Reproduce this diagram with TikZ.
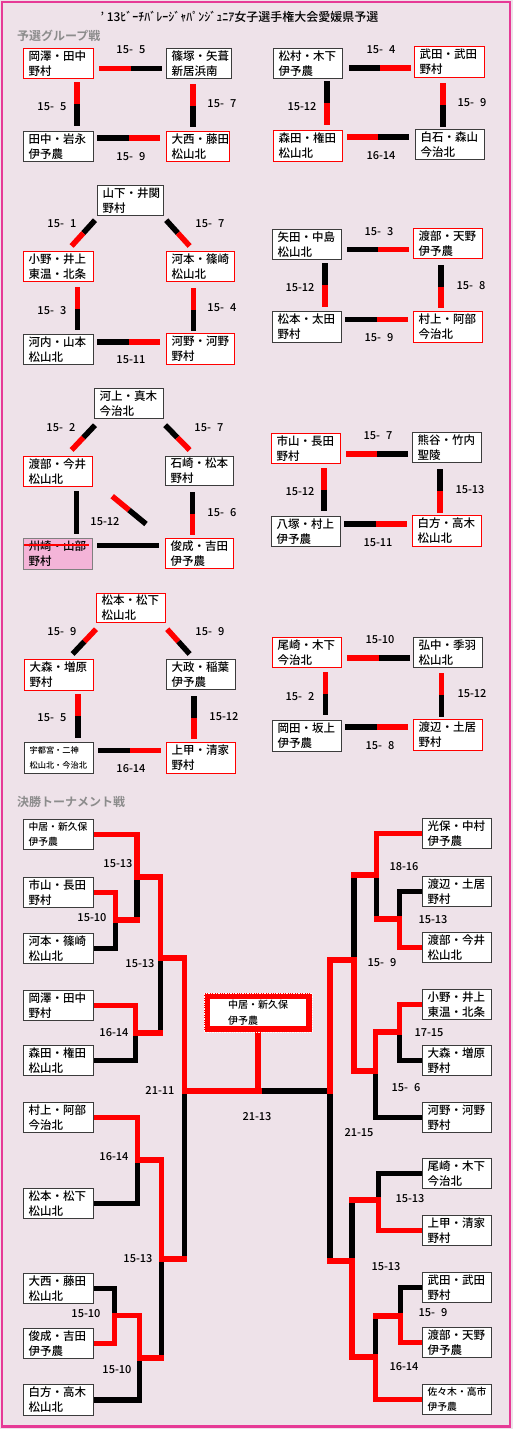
\documentclass[tikz,border=0pt]{standalone}
\usepackage{fontspec}
\setmainfont{Noto Sans CJK JP}[UprightFont=* Medium, BoldFont=* Bold]
\usetikzlibrary{calc,backgrounds}
\definecolor{bg}{RGB}{238,226,233}
\definecolor{framec}{RGB}{230,58,150}
\definecolor{hdr}{RGB}{140,140,140}
\definecolor{bxgray}{RGB}{60,60,60}
\definecolor{strikepink}{RGB}{244,180,216}
\definecolor{myred}{RGB}{255,0,0}
\tikzset{
 bx/.style={draw=bxgray, fill=white, line width=1.2pt, inner xsep=5pt, inner ysep=0pt, align=left, font=\fontsize{11.5}{15}\selectfont},
 bxr/.style={bx, draw=myred},
 bxs/.style={bx, fill=strikepink, draw=gray},
 bxsm/.style={bx, font=\fontsize{9.8}{15}\selectfont},
 bar/.style={line width=5.5pt},
 tl/.style={line width=5.5pt, line join=miter, line cap=rect},
 lab/.style={font=\fontsize{11}{12}\selectfont, inner sep=0pt},
 hdrs/.style={font=\bfseries\fontsize{12}{14}\selectfont, text=hdr, anchor=west, inner sep=0pt},
 cboxs/.style={draw=myred, line width=6pt, fill=white, minimum width=102pt, minimum height=33pt, text width=60pt, align=left, inner sep=0pt, font=\fontsize{10}{16}\selectfont},
}
\newcommand\mybox[7]{%
 \pgfmathsetmacro\bw{#4-#2}\pgfmathsetmacro\bh{#5-#3}\pgfmathsetmacro\tw{#4-#2-10}%
 \node[#6, anchor=north west, minimum width=\bw pt, minimum height=\bh pt, text width=\tw pt] (#1) at (#2,#3) {#7};}
\newcommand\hcon[7]{%
 \coordinate (hs) at ($(#1.east |- 0,#3)+(#4,0)$);
 \coordinate (he) at ($(#2.west |- 0,#3)+(-#5,0)$);
 \coordinate (hm) at ($(hs)!.5!(he)$);
 \draw[bar,#6] (hs) -- (hm);
 \draw[bar,#7] (hm) -- (he);}
\newcommand\vcon[7]{%
 \coordinate (vs) at ($(#1.south -| #3,0)+(0,#4)$);
 \coordinate (ve) at ($(#2.north -| #3,0)+(0,-#5)$);
 \coordinate (vm) at ($(vs)!.5!(ve)$);
 \draw[bar,#6] (vs) -- (vm);
 \draw[bar,#7] (vm) -- (ve);}
\newcommand\dcon[4]{%
 \coordinate (dm) at ($(#1)!.5!(#2)$);
 \draw[bar,#3] (#1) -- (dm);
 \draw[bar,#4] (dm) -- (#2);}
\newcommand\scl[4]{\node[lab] (#1) at (#2,#3) {#4};}
\newcommand\dg{\hphantom{0}}
\begin{document}
\begin{tikzpicture}[x=1pt,y=-1pt]
\useasboundingbox (0,0) rectangle (513,1429);
% title and headers
\node[font=\fontsize{12}{14}\selectfont, inner sep=0pt] (title) at (239.5,17) {' 13ﾋﾞｰﾁﾊﾞﾚｰｼﾞｬﾊﾟﾝｼﾞｭﾆｱ女子選手権大会愛媛県予選};
\node[hdrs] (h1) at (17,36) {予選グループ戦};
\node[hdrs] (h2) at (17,802) {決勝トーナメント戦};
% group 1
\mybox{G1a}{23}{48}{93}{78}{bxr}{岡澤・田中\\野村}
\mybox{G1b}{166}{48}{231}{78}{bx}{篠塚・矢葺\\新居浜南}
\mybox{G1c}{23}{131}{93}{161}{bx}{田中・岩永\\伊予農}
\mybox{G1d}{166}{131}{229}{161}{bxr}{大西・藤田\\松山北}
\hcon{G1a}{G1b}{68.5}{5}{4}{myred}{black}
\hcon{G1c}{G1d}{138}{3}{6}{black}{myred}
\vcon{G1a}{G1c}{77}{3}{5}{myred}{black}
\vcon{G1b}{G1d}{193}{5}{4}{myred}{black}
\scl{s11}{131}{50}{15-\dg 5}
\scl{s12}{52}{107}{15-\dg 5}
\scl{s13}{222}{104}{15-\dg 7}
\scl{s14}{131}{157}{15-\dg 9}
% group 2
\mybox{G2a}{273}{48}{342}{78}{bx}{松村・木下\\伊予農}
\mybox{G2b}{414}{46}{484}{77}{bxr}{武田・武田\\野村}
\mybox{G2c}{273}{130}{342}{161}{bxr}{森田・権田\\松山北}
\mybox{G2d}{415}{129}{484}{159}{bx}{白石・森山\\今治北}
\hcon{G2a}{G2b}{68}{6}{3}{black}{myred}
\hcon{G2c}{G2d}{137}{4}{6}{myred}{black}
\vcon{G2a}{G2c}{327}{2}{5}{black}{myred}
\vcon{G2b}{G2d}{443}{5}{2}{myred}{black}
\scl{s21}{381}{50}{15-\dg 4}
\scl{s22}{302}{107}{15-12}
\scl{s23}{472}{103}{15-\dg 9}
\scl{s24}{381}{156}{16-14}
% group 3
\mybox{G3a}{97}{185}{163}{215}{bx}{山下・井関\\野村}
\mybox{G3b}{23}{251}{93}{281}{bxr}{小野・井上\\東温・北条}
\mybox{G3c}{166}{251}{234}{281}{bxr}{河本・篠崎\\松山北}
\mybox{G3d}{23}{334}{93}{364}{bx}{河内・山本\\松山北}
\mybox{G3e}{166}{333}{234}{364}{bxr}{河野・河野\\野村}
\coordinate (d1) at ($(G3a.south west)+(-2,4)$);
\coordinate (d2) at ($(G3b.north)+(13,-5)$);
\dcon{d1}{d2}{black}{myred}
\coordinate (d3) at ($(G3a.south east)+(2,4)$);
\coordinate (d4) at ($(G3c.north)+(-11,-5)$);
\dcon{d3}{d4}{black}{myred}
\vcon{G3b}{G3d}{77.5}{5}{4}{myred}{black}
\vcon{G3c}{G3e}{193.5}{6}{2}{myred}{black}
\hcon{G3d}{G3e}{342}{3}{6}{black}{myred}
\scl{s31}{62}{224}{15-\dg 1}
\scl{s32}{210}{224}{15-\dg 7}
\scl{s33}{52}{311}{15-\dg 3}
\scl{s34}{222}{308}{15-\dg 4}
\scl{s35}{131}{360}{15-11}
% group 4
\mybox{G4a}{272}{229}{341}{259}{bx}{矢田・中島\\松山北}
\mybox{G4b}{413}{228}{482}{258}{bxr}{渡部・天野\\伊予農}
\mybox{G4c}{272}{311}{341}{342}{bx}{松本・太田\\野村}
\mybox{G4d}{413}{311}{482}{342}{bxr}{村上・阿部\\今治北}
\hcon{G4a}{G4b}{249.5}{5}{4}{black}{myred}
\hcon{G4c}{G4d}{319.5}{3}{5}{black}{myred}
\vcon{G4a}{G4c}{325}{3}{4}{black}{myred}
\vcon{G4b}{G4d}{441}{6}{3}{black}{myred}
\scl{s41}{379}{232}{15-\dg 3}
\scl{s42}{300}{288}{15-12}
\scl{s43}{471}{286}{15-\dg 8}
\scl{s44}{379}{338}{15-\dg 9}
% group 5
\mybox{G5a}{94}{388}{163}{418}{bx}{河上・真木\\今治北}
\mybox{G5b}{23}{456}{92}{486}{bxr}{渡部・今井\\松山北}
\mybox{G5c}{165}{456}{233}{485}{bx}{石崎・松本\\野村}
\mybox{G5d}{23}{538}{92}{569}{bxs}{州崎・山部\\野村}
\mybox{G5e}{165}{538}{233}{568}{bxr}{俊成・吉田\\伊予農}
\draw[myred, line width=2pt] ($(G5d.north west)+(1,7)$) -- ($(G5d.north east)+(-4,7)$);
\coordinate (d5) at ($(G5a.south west)+(1,6)$);
\coordinate (d6) at ($(G5b.north)+(13.5,-6)$);
\dcon{d5}{d6}{black}{myred}
\coordinate (d7) at ($(G5a.south east)+(1,6)$);
\coordinate (d8) at ($(G5c.north)+(-10,-6)$);
\dcon{d7}{d8}{black}{myred}
\coordinate (d9) at ($(G5b.south east)+(19,9)$);
\coordinate (d10) at ($(G5e.north west)+(-19,-14)$);
\dcon{d9}{d10}{myred}{black}
\vcon{G5b}{G5d}{76.5}{4}{4}{black}{black}
\vcon{G5c}{G5e}{192.5}{6}{3}{black}{myred}
\hcon{G5d}{G5e}{545.5}{4}{6}{black}{black}
\scl{s51}{61}{428}{15-\dg 2}
\scl{s52}{209}{428}{15-\dg 7}
\scl{s53}{105}{522}{15-12}
\scl{s54}{222}{513}{15-\dg 6}
% group 6
\mybox{G6a}{271}{433}{340}{463}{bxr}{市山・長田\\野村}
\mybox{G6b}{412}{432}{481}{462}{bx}{熊谷・竹内\\聖陵}
\mybox{G6c}{271}{516}{340}{546}{bx}{八塚・村上\\伊予農}
\mybox{G6d}{412}{515}{481}{546}{bxr}{白方・高木\\松山北}
\hcon{G6a}{G6b}{454}{5}{4}{myred}{black}
\hcon{G6c}{G6d}{524}{3}{5}{black}{myred}
\vcon{G6a}{G6c}{324}{4}{5}{myred}{black}
\vcon{G6b}{G6d}{440}{6}{2}{black}{myred}
\scl{s61}{378}{436}{15-\dg 7}
\scl{s62}{300}{492}{15-12}
\scl{s63}{470}{490}{15-13}
\scl{s64}{378}{543}{15-11}
% group 7
\mybox{G7a}{96}{593}{165}{622}{bxr}{松本・松下\\松山北}
\mybox{G7b}{24}{659}{93}{690}{bxr}{大森・増原\\野村}
\mybox{G7c}{166}{659}{235}{689}{bx}{大政・稲葉\\伊予農}
\mybox{G7d}{24}{742}{93}{773}{bx,font=\fontsize{8.2}{15}\selectfont}{宇都宮・二神\\松山北・今治北}
\mybox{G7e}{166}{742}{235}{773}{bxr}{上甲・清家\\野村}
\coordinate (d11) at ($(G7a.south west)+(0,6)$);
\coordinate (d12) at ($(G7b.north)+(13.5,-5)$);
\dcon{d11}{d12}{myred}{black}
\coordinate (d13) at ($(G7a.south east)+(1,6)$);
\coordinate (d14) at ($(G7c.north)+(-11.5,-5)$);
\dcon{d13}{d14}{myred}{black}
\vcon{G7b}{G7d}{78}{3}{4}{myred}{black}
\vcon{G7c}{G7e}{194}{6}{3}{black}{myred}
\hcon{G7d}{G7e}{750.5}{4}{5}{black}{myred}
\scl{s71}{62}{632}{15-\dg 9}
\scl{s72}{210}{632}{15-\dg 9}
\scl{s73}{52}{718}{15-\dg 5}
\scl{s74}{224}{717}{15-12}
\scl{s75}{131}{769}{16-14}
% group 8
\mybox{G8a}{272}{637}{341}{667}{bxr}{尾崎・木下\\今治北}
\mybox{G8b}{413}{637}{482}{667}{bx}{弘中・季羽\\松山北}
\mybox{G8c}{272}{720}{341}{751}{bx}{岡田・坂上\\伊予農}
\mybox{G8d}{413}{719}{482}{750}{bxr}{渡辺・土居\\野村}
\hcon{G8a}{G8b}{658}{5}{3}{myred}{black}
\hcon{G8c}{G8d}{727}{3}{5}{black}{myred}
\vcon{G8a}{G8c}{325.5}{4}{5}{myred}{black}
\vcon{G8b}{G8d}{441.5}{5}{2}{myred}{black}
\scl{s81}{380}{640}{15-10}
\scl{s82}{300}{697}{15-\dg 2}
\scl{s83}{472}{694}{15-12}
\scl{s84}{380}{746}{15-\dg 8}
% tournament boxes
\mybox{TL1}{23}{819}{93}{849}{bxsm}{中居・新久保\\伊予農}
\mybox{TL2}{23}{877}{93}{907}{bx}{市山・長田\\野村}
\mybox{TL3}{23}{933}{93}{963}{bx}{河本・篠崎\\松山北}
\mybox{TL4}{23}{990}{93}{1020}{bx}{岡澤・田中\\野村}
\mybox{TL5}{23}{1045}{93}{1075}{bx}{森田・権田\\松山北}
\mybox{TL6}{23}{1102}{93}{1132}{bx}{村上・阿部\\今治北}
\mybox{TL7}{23}{1188}{93}{1218}{bx}{松本・松下\\松山北}
\mybox{TL8}{23}{1273}{93}{1303}{bx}{大西・藤田\\松山北}
\mybox{TL9}{23}{1328}{93}{1358}{bx}{俊成・吉田\\伊予農}
\mybox{TL10}{23}{1384}{93}{1415}{bx}{白方・高木\\松山北}
\mybox{TR1}{422}{818}{491}{848}{bx}{光保・中村\\伊予農}
\mybox{TR2}{422}{876}{491}{906}{bx}{渡辺・土居\\野村}
\mybox{TR3}{422}{932}{491}{962}{bx}{渡部・今井\\松山北}
\mybox{TR4}{422}{989}{491}{1019}{bx}{小野・井上\\東温・北条}
\mybox{TR5}{422}{1045}{491}{1075}{bx}{大森・増原\\野村}
\mybox{TR6}{422}{1102}{491}{1132}{bx}{河野・河野\\野村}
\mybox{TR7}{422}{1158}{491}{1188}{bx}{尾崎・木下\\今治北}
\mybox{TR8}{422}{1215}{491}{1245}{bx}{上甲・清家\\野村}
\mybox{TR9}{422}{1272}{491}{1302}{bx}{武田・武田\\野村}
\mybox{TR10}{422}{1327}{491}{1357}{bx}{渡部・天野\\伊予農}
\mybox{TR11}{422}{1384}{491}{1414}{bxsm}{佐々木・高市\\伊予農}
\node[cboxs] (cbox) at (258,1012.5) {中居・新久保\\伊予農};
\draw[white, densely dotted, line width=0.7pt] (cbox.south west) rectangle (cbox.north east);
% tournament labels
\scl{t1}{118}{864}{15-13}
\scl{t2}{92}{918}{15-10}
\scl{t3}{140}{964}{15-13}
\scl{t4}{114}{1033}{16-14}
\scl{t5}{160}{1090}{21-11}
\scl{t6}{257}{1117}{21-13}
\scl{t7}{114}{1157}{16-14}
\scl{t8}{138}{1259}{15-13}
\scl{t9}{86}{1314}{15-10}
\scl{t10}{117}{1370}{15-10}
\scl{t11}{404}{867}{18-16}
\scl{t12}{433}{920}{15-13}
\scl{t13}{382}{963}{15-\dg 9}
\scl{t14}{429}{1033}{17-15}
\scl{t15}{406}{1088}{15-\dg 6}
\scl{t16}{359}{1133}{21-15}
\scl{t17}{410}{1199}{15-13}
\scl{t18}{386}{1267}{15-13}
\scl{t19}{433}{1313}{15-\dg 9}
\scl{t20}{404}{1367}{16-14}
\begin{scope}[on background layer]
\fill[bg] (0,0) rectangle (513,1429);
\draw[framec, line width=2.5pt] (2.2,2.2) rectangle (510,1426.7);
% black segments
\draw[tl,black] (TL3.east) -| (115.5,920);
\draw[tl,black] (137,877) -- (137,920);
\draw[tl,black] (TL5.east) -| (135.5,1033);
\draw[tl,black] (160.5,958) -- (160.5,1033);
\draw[tl,black] (TL7.east) -| (137.5,1160);
\draw[tl,black] (TL8.east) -| (114.5,1315.5);
\draw[tl,black] (TL10.east) -| (139.5,1358);
\draw[tl,black] (161.5,1259) -- (161.5,1358);
\draw[tl,black] (184.5,1091) -- (184.5,1259);
\draw[tl,black] (TR2.west) -| (399.5,919);
\draw[tl,black] (376.5,875) -- (376.5,919);
\draw[tl,black] (354,875) -- (354,960);
\draw[tl,black] (TR5.west) -| (399.5,1032);
\draw[tl,black] (TR6.west) -| (375.5,1071);
\draw[tl,black] (TR7.west) -| (378.5,1200);
\draw[tl,black] (352,1200) -- (352,1261);
\draw[tl,black] (TR9.west) -| (400.5,1316);
\draw[tl,black] (375.5,1316) -- (375.5,1357);
\draw[tl,black] (259,1091) -- (330,1091) -- (330,1261);
% red segments
\draw[tl,myred] (TL1.east) -| (137,877) -- (160.5,877) -- (160.5,958) -- (184.5,958) -- (184.5,1091) -- (259,1091);
\draw[tl,myred] (TL2.east) -| (115.5,920) -- (137,920);
\draw[tl,myred] (TL4.east) -| (135.5,1033) -- (160.5,1033);
\draw[tl,myred] (TL6.east) -| (137.5,1160) -- (161.5,1160) -- (161.5,1259) -- (184.5,1259);
\draw[tl,myred] (TL9.east) -| (114.5,1315.5) -- (139.5,1315.5) -- (139.5,1358) -- (161.5,1358);
\draw[tl,myred] (TR1.west) -| (376.5,875) -- (354,875);
\draw[tl,myred] (TR3.west) -| (399.5,919) -- (376.5,919);
\draw[tl,myred] (TR4.west) -| (399.5,1032) -- (375.5,1032) -- (375.5,1071) -- (354,1071) -- (354,960) -- (330,960) -- (330,1091);
\draw[tl,myred] (TR8.west) -| (378.5,1200) -- (352,1200);
\draw[tl,myred] (TR10.west) -| (400.5,1316) -- (375.5,1316);
\draw[tl,myred] (TR11.west) -| (375.5,1357) -- (352,1357) -- (352,1261) -- (330,1261);
\draw[tl,myred] (cbox.south) -- (cbox.south |- 0,1091);
\end{scope}
\end{tikzpicture}
\end{document}
